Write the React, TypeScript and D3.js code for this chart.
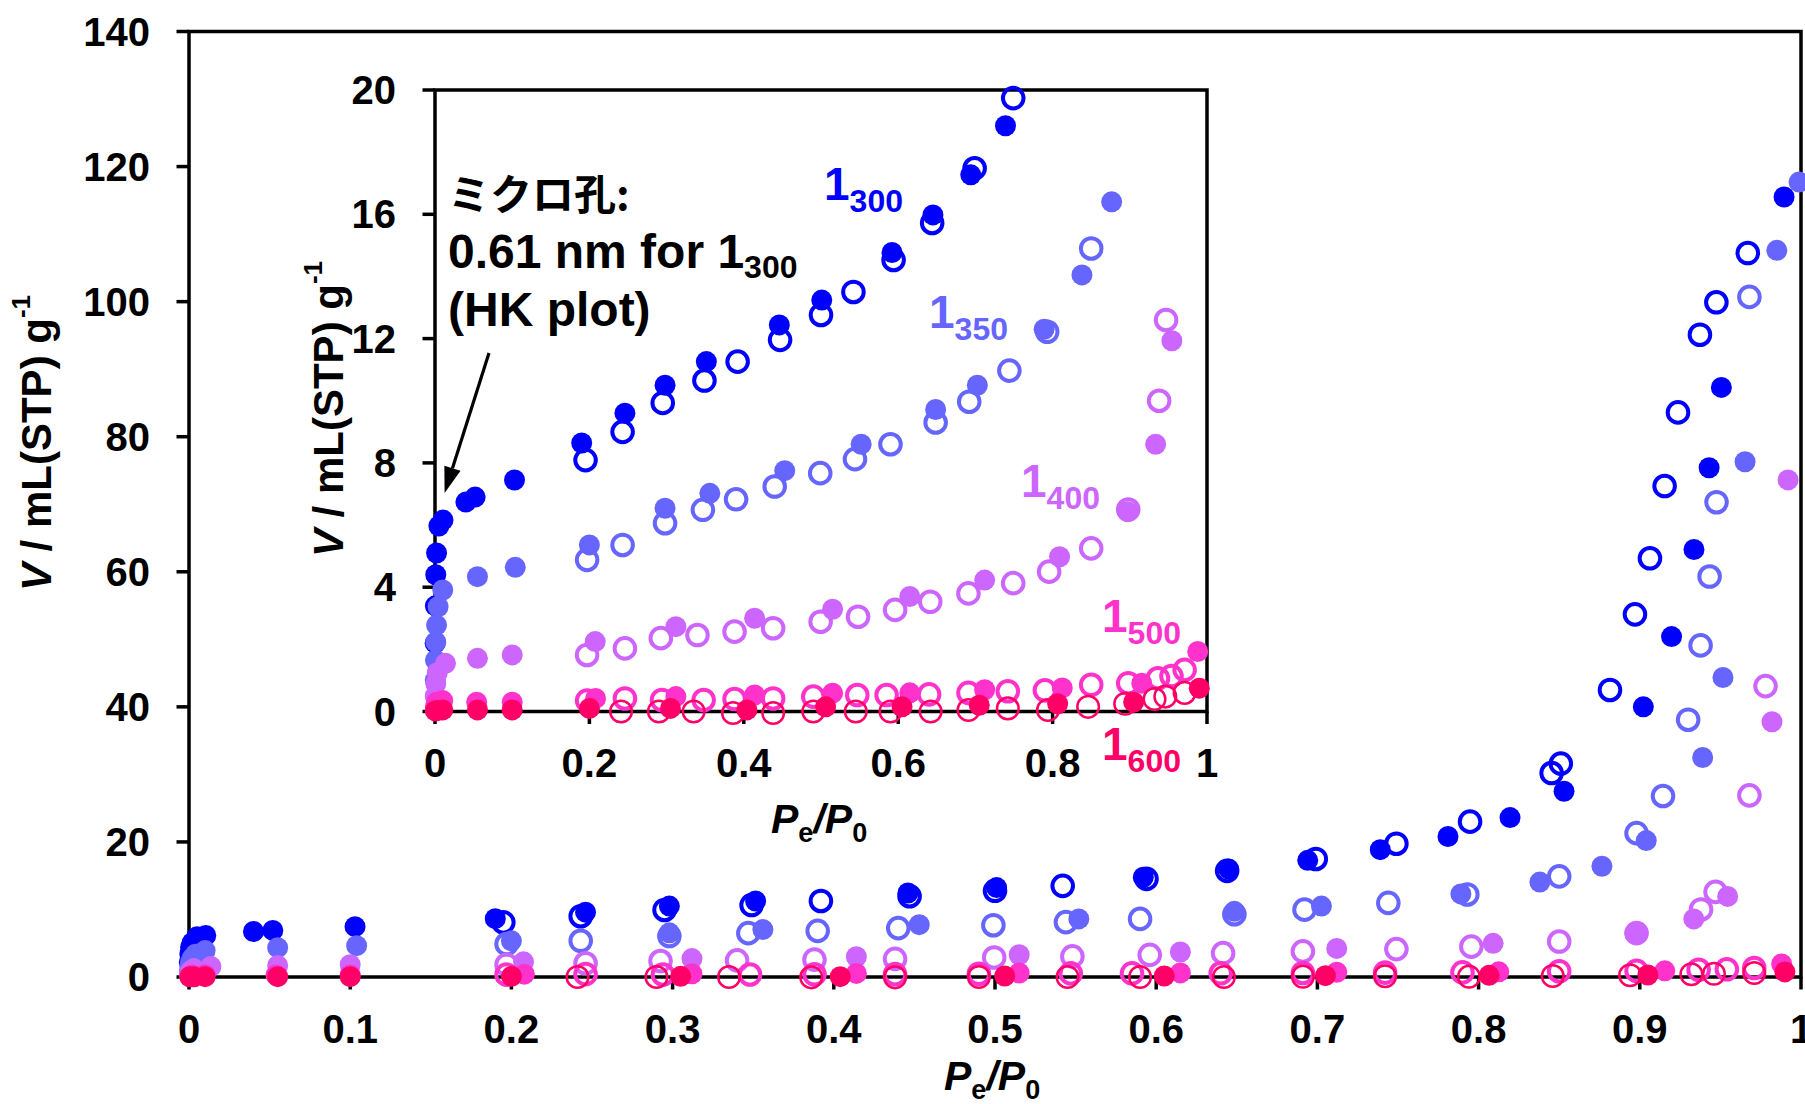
import React from 'react';
import * as d3 from 'd3';

// ---------- tick values ----------
const xTicksMain = [0, 0.1, 0.2, 0.3, 0.4, 0.5, 0.6, 0.7, 0.8, 0.9, 1];
const yTicksMain = [0, 20, 40, 60, 80, 100, 120, 140];
const xTicksInset = [0, 0.2, 0.4, 0.6, 0.8, 1];
const yTicksInset = [0, 4, 8, 12, 16, 20];

// ---------- data: 1_300 ----------
const p300Ads = [0.0002, 0.0005, 0.001, 0.002, 0.005, 0.0104, 0.04, 0.052, 0.103, 0.19, 0.246, 0.298, 0.3515, 0.446, 0.501, 0.592, 0.645, 0.694, 0.739, 0.781, 0.8195, 0.853, 0.9022, 0.9197, 0.9336, 0.943, 0.9506, 0.9895];
const v300Ads = [2.2, 3.4, 4.4, 5.1, 5.97, 6.16, 6.74, 6.9, 7.45, 8.64, 9.6, 10.5, 11.26, 12.44, 13.24, 14.77, 15.98, 17.27, 18.85, 20.8, 23.6, 27.5, 40.0, 50.4, 63.3, 75.4, 87.3, 115.5];
const p300Des = [0.195, 0.243, 0.295, 0.349, 0.392, 0.447, 0.5, 0.542, 0.594, 0.644, 0.699, 0.749, 0.7947, 0.8453, 0.851, 0.8815, 0.897, 0.9063, 0.9154, 0.9237, 0.9373, 0.9475, 0.967];
const v300Des = [8.09, 9.0, 9.93, 10.65, 11.26, 11.96, 12.76, 13.5, 14.53, 15.72, 17.48, 19.74, 23.0, 30.2, 31.6, 42.5, 53.7, 62.0, 72.7, 83.6, 95.1, 99.9, 107.2];

// ---------- data: 1_350 ----------
const p350Ads = [0.0003, 0.0006, 0.001, 0.002, 0.004, 0.01, 0.055, 0.104, 0.2, 0.298, 0.356, 0.453, 0.552, 0.6485, 0.7025, 0.789, 0.838, 0.8765, 0.904, 0.939, 0.9516, 0.9653, 0.985, 0.9988];
const v350Ads = [1.01, 1.65, 2.24, 2.78, 3.37, 3.91, 4.34, 4.64, 5.36, 6.54, 7.02, 7.75, 8.6, 9.72, 10.5, 12.3, 14.05, 16.4, 20.2, 32.5, 44.35, 76.3, 107.6, 117.7];
const p350Des = [0.197, 0.243, 0.298, 0.347, 0.39, 0.44, 0.499, 0.544, 0.59, 0.6485, 0.692, 0.744, 0.793, 0.85, 0.898, 0.9144, 0.93, 0.9377, 0.9433, 0.9476, 0.968];
const v350Des = [4.88, 5.36, 6.06, 6.49, 6.83, 7.24, 7.67, 8.12, 8.6, 9.3, 9.97, 10.97, 12.22, 14.9, 21.3, 26.8, 38.1, 49.1, 59.3, 70.3, 100.7];

// ---------- data: 1_400 ----------
const p400Ads = [0.0003, 0.001, 0.003, 0.0136, 0.055, 0.1, 0.2075, 0.312, 0.414, 0.515, 0.615, 0.712, 0.809, 0.897, 0.9335, 0.9545, 0.982, 0.992];
const v400Ads = [0.5, 0.9, 1.25, 1.55, 1.71, 1.82, 2.25, 2.73, 3.0, 3.29, 3.7, 4.23, 4.98, 6.43, 8.6, 11.93, 37.8, 73.6];
const p400Des = [0.197, 0.246, 0.2925, 0.34, 0.388, 0.438, 0.4995, 0.548, 0.596, 0.6415, 0.691, 0.749, 0.7955, 0.85, 0.898, 0.938, 0.947, 0.968, 0.978];
const v400Des = [1.82, 2.03, 2.36, 2.46, 2.57, 2.68, 2.89, 3.05, 3.27, 3.53, 3.8, 4.13, 4.5, 5.25, 6.5, 10.0, 12.6, 26.9, 43.07];

// ---------- data: 1_500 ----------
const p500Ads = [0.0005, 0.002, 0.01, 0.054, 0.1, 0.208, 0.312, 0.414, 0.515, 0.615, 0.712, 0.8125, 0.9155, 0.988];
const v500Ads = [0.15, 0.3, 0.35, 0.3, 0.3, 0.42, 0.48, 0.53, 0.59, 0.6, 0.7, 0.76, 0.91, 1.93];
const p500Des = [0.197, 0.246, 0.294, 0.348, 0.388, 0.438, 0.49, 0.547, 0.585, 0.64, 0.691, 0.742, 0.79, 0.85, 0.898, 0.9365, 0.954, 0.971];
const v500Des = [0.35, 0.42, 0.37, 0.37, 0.4, 0.42, 0.48, 0.53, 0.53, 0.55, 0.6, 0.65, 0.68, 0.86, 0.91, 1.07, 1.14, 1.34];

// ---------- data: 1_600 ----------
const p600Ads = [0.0005, 0.003, 0.01, 0.055, 0.1, 0.2, 0.305, 0.404, 0.506, 0.605, 0.705, 0.8065, 0.905, 0.99];
const v600Ads = [0.02, 0.03, 0.05, 0.05, 0.05, 0.1, 0.1, 0.05, 0.15, 0.15, 0.2, 0.25, 0.3, 0.75];
const p600Des = [0.241, 0.29, 0.335, 0.386, 0.438, 0.49, 0.545, 0.59, 0.642, 0.691, 0.742, 0.794, 0.846, 0.894, 0.932, 0.946, 0.971];
const v600Des = [0.0, 0.0, 0.0, -0.05, -0.05, 0.0, 0.0, 0.0, 0.0, 0.05, 0.1, 0.05, 0.15, 0.25, 0.4, 0.48, 0.6];

const seriesSubs = ['300', '350', '400', '500', '600'];
const seriesColors = ['#0000FF', '#6666FF', '#CC66FF', '#FF33CC', '#FF0066'];

type Pt = { p: number; v: number };
const zip = (ps: number[], vs: number[]): Pt[] => ps.map((p, i) => ({ p, v: vs[i] }));

const series = [
  { sub: seriesSubs[0], color: seriesColors[0], ads: zip(p300Ads, v300Ads), des: zip(p300Des, v300Des), openW: 4, label: { x: 824, y: 200 } },
  { sub: seriesSubs[1], color: seriesColors[1], ads: zip(p350Ads, v350Ads), des: zip(p350Des, v350Des), openW: 4, label: { x: 929, y: 328 } },
  { sub: seriesSubs[2], color: seriesColors[2], ads: zip(p400Ads, v400Ads), des: zip(p400Des, v400Des), openW: 4, label: { x: 1021, y: 497 } },
  { sub: seriesSubs[3], color: seriesColors[3], ads: zip(p500Ads, v500Ads), des: zip(p500Des, v500Des), openW: 4, label: { x: 1102, y: 632 } },
  { sub: seriesSubs[4], color: seriesColors[4], ads: zip(p600Ads, v600Ads), des: zip(p600Des, v600Des), openW: 2.5, label: { x: 1102, y: 760 } },
];

const FONT = '"Liberation Sans", Arial, Helvetica, sans-serif';
const CJK = '"Noto Sans CJK JP", "Noto Sans CJK SC", sans-serif';

const W = 1805;
const H = 1104;

const xMain = d3.scaleLinear().domain([0, 1]).range([189, 1801]);
const yMain = d3.scaleLinear().domain([0, 140]).range([977, 31.5]);
const xIn = d3.scaleLinear().domain([0, 1]).range([435, 1207]);
const yIn = d3.scaleLinear().domain([0, 20]).range([711.5, 90]);

const FILL_R = 10.5;
const OPEN_R = 10.3;

function Markers({ xs, ys, filter }: { xs: d3.ScaleLinear<number, number>; ys: d3.ScaleLinear<number, number>; filter?: (d: Pt) => boolean }) {
  const f = filter || (() => true);
  return (
    <g>
      {series.map((s) => (
        <g key={s.sub}>
          {s.des.filter(f).map((d, i) => (
            <circle key={'o' + i} cx={xs(d.p)} cy={ys(d.v)} r={s.openW < 3 ? 10.8 : OPEN_R} fill="none" stroke={s.color} strokeWidth={s.openW} />
          ))}
          {s.ads.filter(f).map((d, i) => (
            <circle key={'f' + i} cx={xs(d.p)} cy={ys(d.v)} r={FILL_R} fill={s.color} />
          ))}
        </g>
      ))}
    </g>
  );
}

function fmt(t: number) {
  return String(t);
}

function YTitle({ x, y }: { x: number; y: number }) {
  return (
    <text transform={`translate(${x},${y}) rotate(-90)`} textAnchor="middle" fontSize={42}>
      <tspan fontStyle="italic">V</tspan> / mL(STP) g<tspan fontSize={26} dy={-21}>-1</tspan>
    </text>
  );
}

function XTitle({ x, y }: { x: number; y: number }) {
  return (
    <text x={x} y={y} fontSize={41}>
      <tspan fontStyle="italic">P</tspan><tspan fontSize={27} dy={9}>e</tspan><tspan dy={-9} fontStyle="italic">/P</tspan><tspan fontSize={27} dy={9}>0</tspan>
    </text>
  );
}

export default function App() {
  const axisW = 3.5;
  const tickLen = 12.5;
  const [x0, x1] = xMain.range();
  const [yb, yt] = yMain.range();
  const [ix0, ix1] = xIn.range();
  const [iyb, iyt] = yIn.range();

  // arrow geometry
  const ax1 = 489, ay1 = 353, ax2 = 444.6, ay2 = 493;
  const ang = Math.atan2(ay2 - ay1, ax2 - ax1);
  const hl = 26, hw = 8.5;
  const bx = ax2 - hl * Math.cos(ang), by = ay2 - hl * Math.sin(ang);
  const nx = -Math.sin(ang), ny = Math.cos(ang);
  const head = `M${ax2},${ay2} L${bx + nx * hw},${by + ny * hw} L${bx - nx * hw},${by - ny * hw} Z`;

  return (
    <svg width={W} height={H} viewBox={`0 0 ${W} ${H}`} style={{ position: 'absolute', left: 0, top: 0, background: '#fff' }} fontFamily={FONT} fontWeight="bold">
      <rect x={0} y={0} width={W} height={H} fill="#fff" />

      {/* ---------- main frame ---------- */}
      <rect x={x0} y={yt} width={x1 - x0} height={yb - yt} fill="none" stroke="#000" strokeWidth={axisW} />
      {yTicksMain.map((t) => (
        <g key={'ym' + t}>
          <line x1={x0 - tickLen} x2={x0} y1={yMain(t)} y2={yMain(t)} stroke="#000" strokeWidth={axisW} />
          <text x={150} y={yMain(t) + 14} textAnchor="end" fontSize={40}>{fmt(t)}</text>
        </g>
      ))}
      {xTicksMain.map((t) => (
        <g key={'xm' + t}>
          <line x1={xMain(t)} x2={xMain(t)} y1={yb} y2={yb + tickLen} stroke="#000" strokeWidth={axisW} />
          <text x={xMain(t)} y={1043} textAnchor="middle" fontSize={40}>{fmt(t)}</text>
        </g>
      ))}
      <YTitle x={51} y={443} />
      <XTitle x={944} y={1090} />

      {/* ---------- inset frame ---------- */}
      <rect x={ix0} y={iyt} width={ix1 - ix0} height={iyb - iyt} fill="#fff" stroke="#000" strokeWidth={axisW} />
      {yTicksInset.map((t) => (
        <g key={'yi' + t}>
          <line x1={ix0 - tickLen} x2={ix0} y1={yIn(t)} y2={yIn(t)} stroke="#000" strokeWidth={axisW} />
          <text x={396} y={yIn(t) + 14} textAnchor="end" fontSize={40}>{fmt(t)}</text>
        </g>
      ))}
      {xTicksInset.map((t) => (
        <g key={'xi' + t}>
          <line x1={xIn(t)} x2={xIn(t)} y1={iyb} y2={iyb + tickLen} stroke="#000" strokeWidth={axisW} />
          <text x={xIn(t)} y={777} textAnchor="middle" fontSize={40}>{fmt(t)}</text>
        </g>
      ))}
      <YTitle x={343} y={409} />
      <XTitle x={771} y={833} />

      {/* ---------- annotation ---------- */}
      <text x={448} y={210} fontSize={42} fontFamily={CJK} fontWeight="bold">ミクロ孔:</text>
      <text x={448} y={268} fontSize={48}>
        0.61 nm for 1<tspan fontSize={32} dy={10}>300</tspan>
      </text>
      <text x={448} y={326} fontSize={48}>(HK plot)</text>
      <line x1={ax1} y1={ay1} x2={bx} y2={by} stroke="#000" strokeWidth={3.2} />
      <path d={head} fill="#000" />

      {/* ---------- series labels ---------- */}
      {series.map((s) => (
        <text key={'lab' + s.sub} x={s.label.x} y={s.label.y} fill={s.color} fontSize={46}>
          1<tspan fontSize={32} dy={12}>{s.sub}</tspan>
        </text>
      ))}

      {/* ---------- data ---------- */}
      <Markers xs={xMain} ys={yMain} />
      <Markers xs={xIn} ys={yIn} filter={(d) => d.v <= 20} />
    </svg>
  );
}
